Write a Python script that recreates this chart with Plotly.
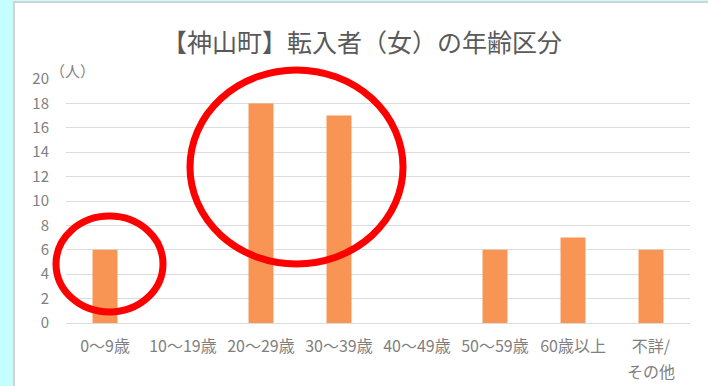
import plotly.graph_objects as go

categories = ["0〜9歳", "10〜19歳", "20〜29歳", "30〜39歳", "40〜49歳", "50〜59歳", "60歳以上", "不詳/その他"]
tick_labels = ["0〜9歳", "10〜19歳", "20〜29歳", "30〜39歳", "40〜49歳", "50〜59歳", "60歳以上", "不詳/"]
tick_label_second_line = "その他"
values = [6, 0, 18, 17, 0, 6, 7, 6]
y_ticks = list(range(0, 21, 2))

W, H = 708, 386
ML, MR, MT, MB = 66, 18, 79, 63
PW, PH = W - ML - MR, H - MT - MB

def px(x):
    return (x - ML) / PW

def py(y):
    return (H - MB - y) / PH

FONT = "Noto Sans CJK JP"

fig = go.Figure(go.Bar(
    x=categories, y=values,
    marker=dict(color="#F89454", line=dict(width=0)),
    hoverinfo="x+y",
))

fig.update_layout(
    width=W, height=H,
    margin=dict(l=ML, r=MR, t=MT, b=MB, autoexpand=False),
    paper_bgcolor="#C4FEFF",
    plot_bgcolor="white",
    bargap=0.68,
    showlegend=False,
    font=dict(family=FONT, color="#7F7F7F"),
    title=dict(text="【神山町】転入者（女）の年齢区分", x=px(362), xref="paper", xanchor="center",
               y=1 - 43 / H, yanchor="middle",
               font=dict(size=25, color="#595959", family=FONT)),
    xaxis=dict(showgrid=False, showline=False, ticks="", tickangle=0, automargin=False,
               tickvals=categories, ticktext=tick_labels,
               tickfont=dict(size=16, color="#7F7F7F"), ticklabelstandoff=12),
    yaxis=dict(range=[0, 20], tickvals=y_ticks, showgrid=True, gridcolor="#DCDCDC", gridwidth=1,
               automargin=False,
               zeroline=True, zerolinecolor="#DCDCDC", zerolinewidth=1, showline=False,
               tickfont=dict(size=15, color="#7F7F7F"), ticklabelstandoff=16),
    annotations=[
        dict(text="（人）", x=px(72), y=py(70), xref="paper", yref="paper",
             xanchor="center", yanchor="middle",
             showarrow=False, font=dict(size=15, color="#7F7F7F", family=FONT)),
        dict(text=tick_label_second_line, x=categories[-1], y=py(371), xref="x", yref="paper",
             xanchor="center", yanchor="middle",
             showarrow=False, font=dict(size=16, color="#7F7F7F", family=FONT)),
    ],
    shapes=[
        dict(type="rect", xref="paper", yref="paper", x0=px(14), x1=px(712), y0=py(392), y1=py(2),
             fillcolor="white", line=dict(color="#D2D2D2", width=2), layer="below"),
        dict(type="circle", xref="paper", yref="paper", x0=px(56), x1=px(163), y0=py(312), y1=py(216),
             line=dict(color="#FF0000", width=7), layer="above"),
        dict(type="circle", xref="paper", yref="paper", x0=px(190), x1=px(403), y0=py(264), y1=py(70),
             line=dict(color="#FF0000", width=7), layer="above"),
    ],
)

fig.write_html("out.html")
